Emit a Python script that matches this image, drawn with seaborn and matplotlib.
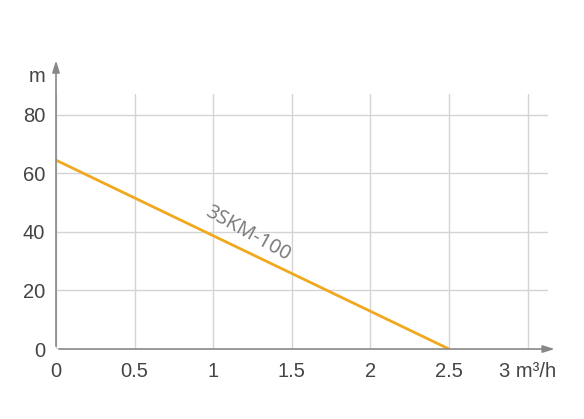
import matplotlib
matplotlib.use("Agg")
import matplotlib.pyplot as plt
import seaborn as sns
import pandas as pd

flow = [0.0, 2.5]
head = [64.5, 0.0]
x_ticks = [0, 0.5, 1, 1.5, 2, 2.5, 3]
x_labels = ["0", "0.5", "1", "1.5", "2", "2.5", "3 m³/h"]
y_ticks = [0, 20, 40, 60, 80]
y_labels = ["0", "20", "40", "60", "80"]
series_name = "3SKM-100"

sns.set_style("white")
plt.rcParams['font.family'] = ['Liberation Sans', 'DejaVu Sans']

fig = plt.figure(figsize=(5.84, 4.19), dpi=100)
ax = fig.add_axes([0.0959, 0.167, 0.8425, 0.608])

df = pd.DataFrame({"flow": flow, "head": head})
sns.lineplot(data=df, x="flow", y="head", ax=ax, color="#F0A91E", linewidth=2.0, zorder=3)

ax.set_xlim(0, 3.13)
ax.set_ylim(0, 87)
ax.set_xticks(x_ticks)
ax.set_xticklabels(x_labels)
ax.set_yticks(y_ticks)
ax.set_yticklabels(y_labels)
ax.grid(True, color="#d4d4d4", linewidth=1.0)
for s in ax.spines.values():
    s.set_visible(False)
ax.tick_params(axis="both", colors="#aaaaaa", labelcolor="#444444", labelsize=14.5, length=4.3, width=1.0)
ax.tick_params(axis="x", length=3, pad=6)
ax.tick_params(axis="y", pad=3.5)
ax.set_xlabel("")
ax.set_ylabel("")

# axes with arrows
ax.annotate("", xy=(3.19, 0), xytext=(0, 0), xycoords="data",
            arrowprops=dict(arrowstyle="-|>,head_length=0.7,head_width=0.22", color="#888888", lw=1.2),
            annotation_clip=False, zorder=4)
ax.annotate("", xy=(0, 99.5), xytext=(0, 0), xycoords="data",
            arrowprops=dict(arrowstyle="-|>,head_length=0.7,head_width=0.22", color="#888888", lw=1.2),
            annotation_clip=False, zorder=4)

ax.text(-0.12, 93, "m", ha="center", va="center", fontsize=14.5, color="#444444")
ax.text(1.22, 39.5, series_name, rotation=-29, ha="center", va="center",
        fontsize=14.5, color="#777777", rotation_mode="anchor", family=["Open Sans", "DejaVu Sans"])

fig.savefig("out.png", dpi=100)
